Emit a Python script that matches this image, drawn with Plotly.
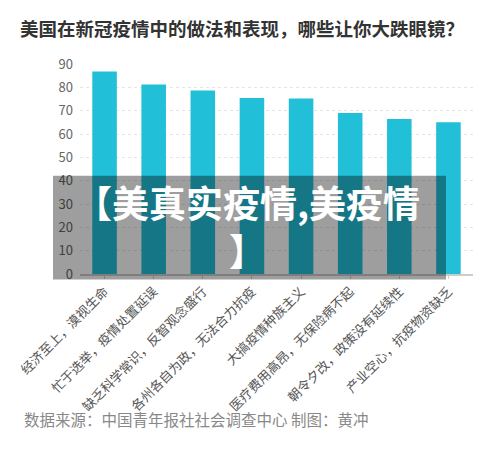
import plotly.graph_objects as go

categories = [
    "经济至上，漠视生命",
    "忙于选举，疫情处置延误",
    "缺乏科学常识，反智观念盛行",
    "各州各自为政，无法合力抗疫",
    "大搞疫情种族主义",
    "医疗费用高昂，无保险病不起",
    "朝令夕改，政策没有延续性",
    "产业空心，抗疫物资缺乏",
]
values = [86.8, 81.2, 78.6, 75.4, 75.2, 69.0, 66.4, 65.0]
y_ticks = [0, 10, 20, 30, 40, 50, 60, 70, 80, 90]

title_text = "美国在新冠疫情中的做法和表现，哪些让你大跌眼镜？"
source_text = "数据来源：中国青年报社社会调查中心 制图：黄冲"
overlay_text = "【美真实疫情,美疫情<br>】"

FONT = "Noto Sans CJK SC"
W, H = 500, 456
L, R, T, B = 80, 27, 64, 181.5
pw, ph = W - L - R, H - T - B


def px(x):
    return (x - L) / pw


def py(y):
    return (H - B - y) / ph


fig = go.Figure(
    go.Bar(
        x=categories,
        y=values,
        marker=dict(color="#22c0d8", line=dict(width=0)),
        width=0.5,
    )
)

fig.update_layout(
    width=W,
    height=H,
    margin=dict(l=L, r=R, t=T, b=B, autoexpand=False),
    paper_bgcolor="white",
    plot_bgcolor="white",
    showlegend=False,
    font=dict(family=FONT, color="#666666", size=12),
    title=dict(
        text=title_text,
        x=20 / W,
        xanchor="left",
        y=1 - 30 / H,
        yanchor="middle",
        font=dict(family=FONT, size=18.5, color="#333333", weight="bold"),
    ),
    xaxis=dict(
        tickangle=-45,
        tickfont=dict(size=13, color="#555555"),
        showgrid=False,
        showline=True,
        linecolor="#cccccc",
        linewidth=1.5,
        ticks="outside",
        ticklen=3,
        tickcolor="#cccccc",
        fixedrange=True,
    ),
    yaxis=dict(
        range=[0, 90],
        tickvals=y_ticks,
        tickfont=dict(size=13, color="#666666"),
        showgrid=True,
        gridcolor="#e4e4e4",
        griddash="dot",
        gridwidth=1,
        zeroline=False,
        showline=False,
        ticks="",
        ticklabelstandoff=6,
        fixedrange=True,
    ),
    shapes=[
        dict(
            type="rect",
            xref="paper",
            yref="paper",
            x0=px(53),
            x1=px(446),
            y0=py(280),
            y1=py(176),
            fillcolor="rgba(0,0,0,0.38)",
            line=dict(width=0),
            layer="above",
        )
    ],
    annotations=[
        dict(
            text=source_text,
            xref="paper",
            yref="paper",
            x=px(22),
            y=py(420),
            xanchor="left",
            yanchor="middle",
            showarrow=False,
            font=dict(family=FONT, size=15.5, color="#888888"),
        ),
        dict(
            text=overlay_text,
            xref="paper",
            yref="paper",
            x=px(247),
            y=py(226),
            xanchor="center",
            yanchor="middle",
            align="center",
            showarrow=False,
            font=dict(family=FONT, size=37, color="white", weight="bold"),
        ),
    ],
)

fig.write_html(
    "out.html",
    config={"displayModeBar": False},
    post_script="document.body.style.margin='0';",
)
